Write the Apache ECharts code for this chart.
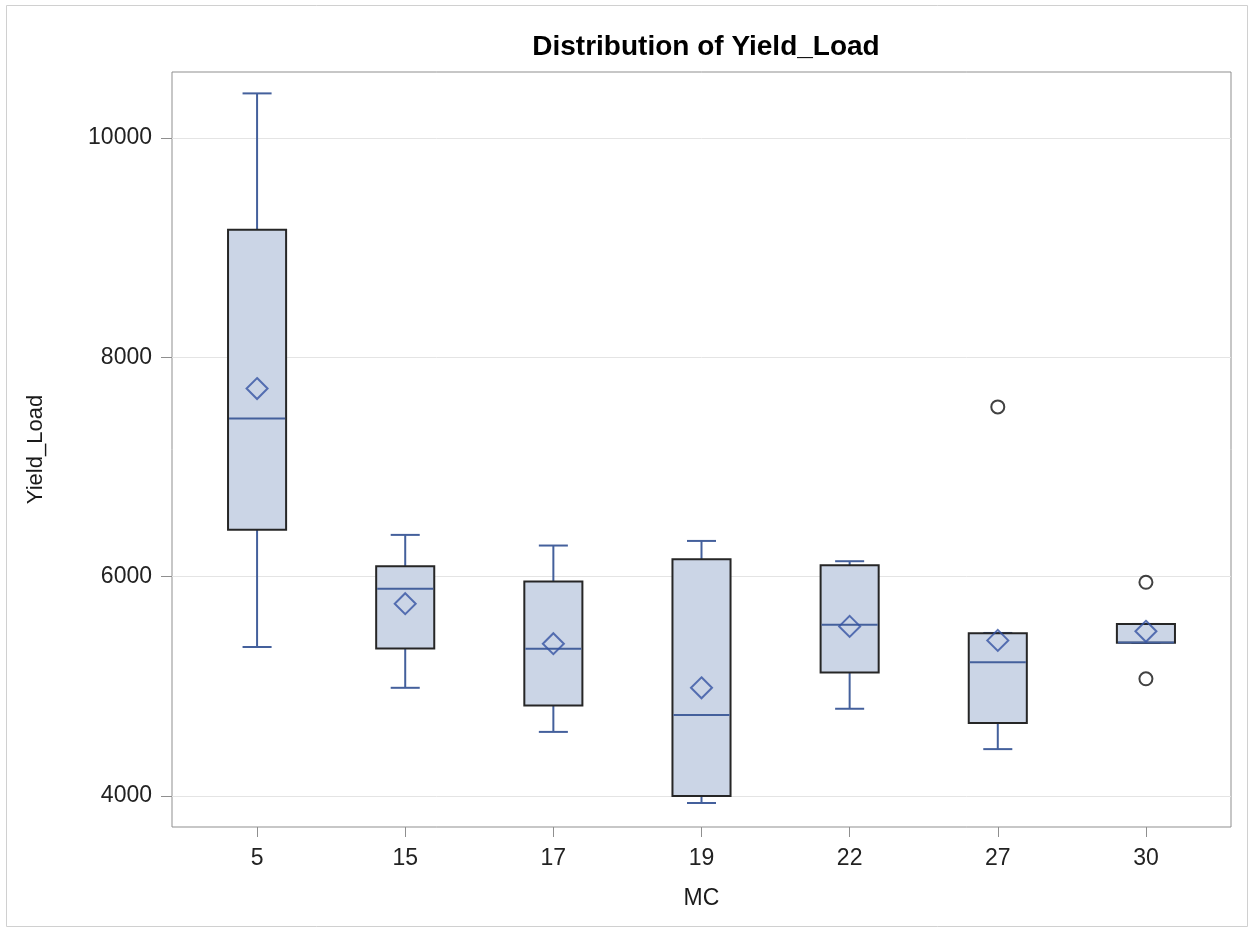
<!DOCTYPE html>
<html>
<head>
<meta charset="utf-8">
<script src="https://cdn.jsdelivr.net/npm/echarts@6/dist/echarts.min.js"></script>
<style>
html,body{margin:0;padding:0;background:#fff;}
#chart{width:1249px;height:937px;}
</style>
</head>
<body>
<div id="chart"></div>
<script>
// ---- data ----
const categories   = ['5', '15', '17', '19', '22', '27', '30'];
const whiskerLow   = [5358, 4986, 4584, 3936, 4795, 4427, 5396];
const q1           = [6427, 5345, 4825, 4000, 5126, 4664, 5396];
const median       = [7440, 5890, 5342, 4738, 5560, 5220, 5398];
const q3           = [9163, 6095, 5954, 6158, 6103, 5483, 5568];
const whiskerHigh  = [10405, 6380, 6283, 6325, 6140, 5486, 5568];
const means        = [7714, 5753, 5388, 4986, 5546, 5418, 5501];
const outlierCats  = ['27', '30', '30'];
const outlierVals  = [7547, 5948, 5068];
const yTicks       = [4000, 6000, 8000, 10000];
const yMin = 3717, yMax = 10600;

const FONT = "'Liberation Sans', Arial, sans-serif";
const BLUE = '#44609c';
const MEANBLUE = '#3553a3';
const FILL = '#cbd5e6';
const EDGE = '#262626';

const boxData = categories.map((c, i) => [i, whiskerLow[i], q1[i], median[i], q3[i], whiskerHigh[i]]);
const meanData = means.map((v, i) => [i, v]);
const outlierData = outlierVals.map((v, k) => [categories.indexOf(outlierCats[k]), v]);

function renderBox(params, api) {
  const x = api.value(0);
  const lo = api.coord([x, api.value(1)]);
  const a = api.coord([x, api.value(2)]);
  const m = api.coord([x, api.value(3)]);
  const b = api.coord([x, api.value(4)]);
  const hi = api.coord([x, api.value(5)]);
  const band = api.size([1, 0])[0];
  const bw = band * 0.392, cw = bw * 0.5;
  const cx = lo[0];
  const ws = {stroke: BLUE, lineWidth: 2, fill: null};
  return {
    type: 'group',
    children: [
      {type: 'line', shape: {x1: cx, y1: b[1], x2: cx, y2: hi[1]}, style: ws},
      {type: 'line', shape: {x1: cx, y1: a[1], x2: cx, y2: lo[1]}, style: ws},
      {type: 'line', shape: {x1: cx - cw / 2, y1: hi[1], x2: cx + cw / 2, y2: hi[1]}, style: ws},
      {type: 'line', shape: {x1: cx - cw / 2, y1: lo[1], x2: cx + cw / 2, y2: lo[1]}, style: ws},
      {type: 'rect', shape: {x: cx - bw / 2, y: b[1], width: bw, height: a[1] - b[1]},
        style: {fill: FILL, stroke: EDGE, lineWidth: 2}},
      {type: 'line', shape: {x1: cx - bw / 2 + 1, y1: m[1], x2: cx + bw / 2 - 1, y2: m[1]}, style: ws}
    ]
  };
}

const chart = echarts.init(document.getElementById('chart'), null, {renderer: 'canvas'});
chart.setOption({
  backgroundColor: '#fff',
  animation: false,
  title: {
    text: 'Distribution of Yield_Load',
    left: 701, top: 28, textAlign: 'center',
    textStyle: {fontFamily: FONT, fontSize: 28, fontWeight: 'bold', color: '#000'}
  },
  graphic: [{
    type: 'rect', shape: {x: 6.5, y: 5.5, width: 1241, height: 921},
    style: {fill: null, stroke: '#d0d0d0', lineWidth: 1}, silent: true, z: -1
  }],
  grid: [
    {left: 172, right: 18, top: 72, bottom: 110, show: true, borderColor: '#8f8f8f', borderWidth: 1, backgroundColor: 'transparent'},
    {left: 183, right: 29, top: 72, bottom: 110}
  ],
  xAxis: [
    {gridIndex: 0, type: 'value', min: 0, max: 1, show: false},
    {
      gridIndex: 1, type: 'category', data: categories,
      name: 'MC', nameLocation: 'middle', nameGap: 60,
      nameTextStyle: {fontFamily: FONT, fontSize: 23, color: '#1a1a1a'},
      axisLine: {show: false},
      axisTick: {show: true, alignWithLabel: true, length: 10, lineStyle: {color: '#8f8f8f'}},
      axisLabel: {margin: 20, fontFamily: FONT, fontSize: 23, color: '#222'},
      splitLine: {show: false}
    }
  ],
  yAxis: [
    {
      gridIndex: 0, type: 'value', min: yMin, max: yMax,
      name: 'Yield_Load', nameLocation: 'middle', nameGap: 125,
      nameTextStyle: {fontFamily: FONT, fontSize: 22, color: '#1a1a1a'},
      axisLine: {show: false},
      axisTick: {show: true, length: 11, lineStyle: {color: '#8f8f8f'}, customValues: yTicks},
      axisLabel: {margin: 20, fontFamily: FONT, fontSize: 23, color: '#222', customValues: yTicks,
        formatter: (v) => String(v)},
      splitLine: {show: true, lineStyle: {color: '#e4e4e4', width: 1}}
    },
    {gridIndex: 1, type: 'value', min: yMin, max: yMax, show: false, splitLine: {show: false}}
  ],
  series: [
    {
      type: 'custom', xAxisIndex: 1, yAxisIndex: 1,
      renderItem: renderBox, data: boxData, encode: {x: 0, y: [1, 2, 3, 4, 5]}, z: 2
    },
    {
      type: 'scatter', xAxisIndex: 1, yAxisIndex: 1, data: meanData,
      symbol: 'diamond', symbolSize: 21, z: 3,
      itemStyle: {color: 'rgba(0,0,0,0)', borderColor: MEANBLUE, borderWidth: 2}
    },
    {
      type: 'scatter', xAxisIndex: 1, yAxisIndex: 1, data: outlierData,
      symbol: 'circle', symbolSize: 13, z: 3,
      itemStyle: {color: 'rgba(0,0,0,0)', borderColor: '#111', borderWidth: 2}
    }
  ]
});
</script>
</body>
</html>
